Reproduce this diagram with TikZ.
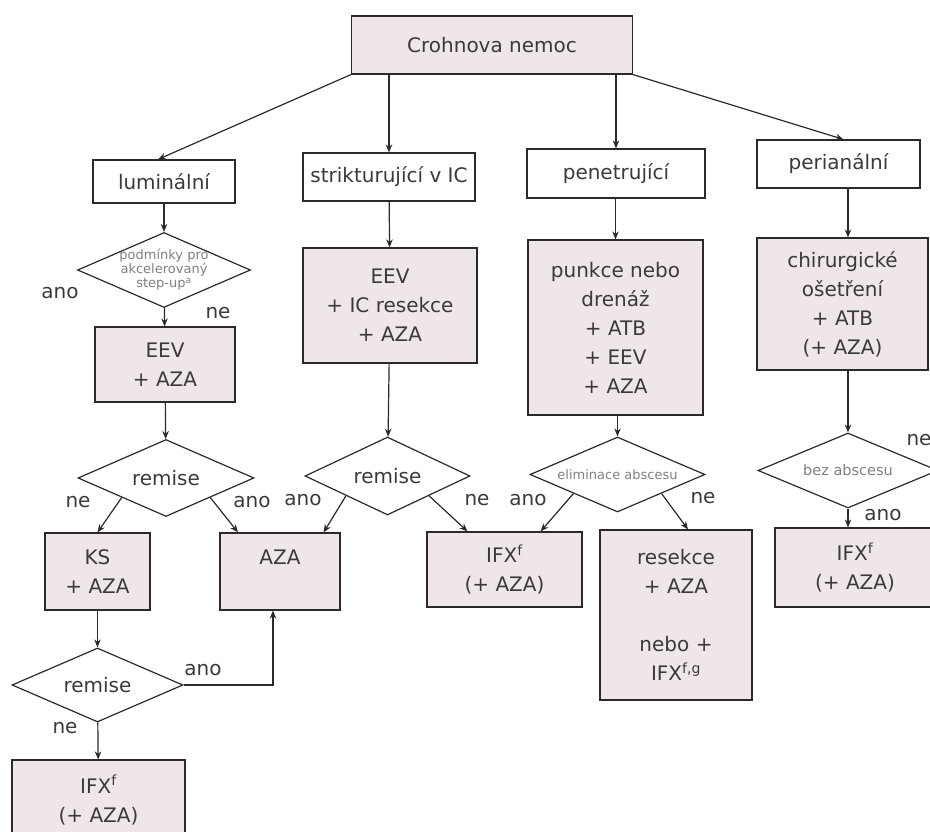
\documentclass[tikz,border=0pt]{standalone}
\usepackage{fontspec}
\setmainfont{DejaVu Sans}
\usepackage{tikz}
\usetikzlibrary{arrows.meta,shapes.geometric}

\definecolor{boxfill}{HTML}{EEE6E8}
\definecolor{inkline}{HTML}{2A2A2A}
\definecolor{inktext}{HTML}{3A3A3A}

\begin{document}
\begin{tikzpicture}[x=1pt, y=-1pt, >={Stealth[length=8pt,width=6.5pt]},
    every node/.style={text=inktext, font=\fontsize{20}{29}\selectfont},
    plain/.style={draw=inkline, line width=1.2pt, inner sep=0pt, align=center},
    cure/.style={plain, fill=boxfill},
    ask/.style={diamond, aspect=2.3, draw=inkline, line width=1.2pt, inner sep=0pt, align=center},
    tiny/.style={font=\fontsize{13}{14}\selectfont, text=gray},
    link/.style={->, draw=inkline, line width=1.2pt}]

    \path[use as bounding box, clip] (0,0) rectangle (930,832);

    % --- top ---
    \node[cure, minimum width=281pt, minimum height=58pt] (crohn) at (492,45) {Crohnova nemoc};

    % --- luminalni ---
    \node[plain, minimum width=142pt, minimum height=43pt] (lum) at (164,181.5) {luminální};
    \node[ask, minimum width=173pt, minimum height=75pt, inner sep=-5pt, tiny] (step) at (164,270)
        {podmínky pro\\akcelerovaný\\step-up\textsuperscript{a}};
    \node[cure, minimum width=140pt, minimum height=75pt] (eev1) at (165,364.5) {EEV\\+ AZA};
    \node[ask, minimum width=176pt, minimum height=77pt] (rem1) at (166,478) {remise};
    \node[cure, minimum width=105pt, minimum height=77pt] (ks) at (97.5,571.5) {KS\\+ AZA};
    \node[cure, minimum width=120pt, minimum height=77pt] (aza) at (280,571.5) {AZA\\\mbox{}};
    \node[ask, minimum width=171pt, minimum height=74pt] (rem2) at (97.5,685) {remise};
    \node[cure, minimum width=173pt, minimum height=80pt] (ifx1) at (98.5,800)
        {IFX\textsuperscript{f}\\(+ AZA)};

    % --- strikturujici ---
    \node[plain, minimum width=172pt, minimum height=48pt] (strik) at (389,177) {strikturující v IC};
    \node[cure, minimum width=174pt, minimum height=115pt] (eev2) at (390,305.5)
        {EEV\\+ IC resekce\\+ AZA};
    \node[ask, minimum width=165pt, minimum height=78pt] (rem3) at (387.5,476) {remise};
    \node[cure, minimum width=155pt, minimum height=75pt] (ifx2) at (504.5,569.5)
        {IFX\textsuperscript{f}\\(+ AZA)};

    % --- penetrujici ---
    \node[plain, minimum width=178pt, minimum height=49pt] (pen) at (616,173.5) {penetrující};
    \node[cure, minimum width=175pt, minimum height=175pt] (punk) at (615.5,327.5)
        {punkce nebo\\drenáž\\+ ATB\\+ EEV\\+ AZA};
    \node[ask, minimum width=175pt, minimum height=75pt, tiny] (elim) at (617.5,474.5)
        {eliminace abscesu};
    \node[cure, minimum width=152pt, minimum height=170pt] (res) at (676,615)
        {resekce\\+ AZA\\[29pt]nebo +\\IFX\textsuperscript{f,g}};

    % --- perianalni ---
    \node[plain, minimum width=163pt, minimum height=48pt] (peri) at (838.5,164) {perianální};
    \node[cure, minimum width=171pt, minimum height=132pt] (chir) at (842.5,304)
        {chirurgické\\ošetření\\+ ATB\\(+ AZA)};
    \node[ask, minimum width=180pt, minimum height=75pt, tiny, font=\fontsize{14.5}{16}\selectfont] (bez) at (848,470.5)
        {bez abscesu};
    \node[cure, minimum width=160pt, minimum height=79pt] (ifx3) at (855,567.5)
        {IFX\textsuperscript{f}\\(+ AZA)};

    % --- answers ---
    \node (ano0) at (60,293) {ano};
    \node (ne0) at (218,313) {ne};
    \node (ne1) at (78,502) {ne};
    \node (ano1) at (252,502) {ano};
    \node (ano2) at (303,500) {ano};
    \node (ne2) at (477,500) {ne};
    \node (ano3) at (528,500) {ano};
    \node (ne3) at (703,498) {ne};
    \node (ano4) at (203,670) {ano};
    \node (ne4) at (65,728) {ne};
    \node (ne5) at (919,440) {ne};
    \node (ano5) at (883,515) {ano};

    % --- arrows ---
    \draw[link] (crohn.south west) -- ([xshift=-6pt]lum.north);
    \draw[link] (crohn.south -| strik) -- (strik.north);
    \draw[link] (crohn.south -| pen) -- (pen.north);
    \draw[link] (crohn.south east) -- ([xshift=5pt]peri.north);

    \draw[link] (lum) -- (step);
    \draw[link] (step) -- (eev1);
    \draw[link] (eev1) -- (rem1);
    \draw[link] (rem1.south west) -- (ks.north);
    \draw[link] (rem1.south east) -- ([xshift=-42pt]aza.north);
    \draw[link] (ks) -- (rem2);
    \draw[link] (rem2.east) -| ([xshift=-7pt]aza.south);
    \draw[link] (rem2) -- (ifx1);

    \draw[link] (strik) -- (eev2);
    \draw[link] (eev2) -- (rem3);
    \draw[link] (rem3.south west) -- ([xshift=-17pt]aza.north east);
    \draw[link] (rem3.south east) -- ([xshift=-37pt]ifx2.north);

    \draw[link] (pen.south -| punk) -- (punk.north);
    \draw[link] (punk.south -| elim) -- (elim.north);
    \draw[link] (elim.south west) -- ([xshift=-42pt]ifx2.north east);
    \draw[link] (elim.south east) -- ([xshift=12pt]res.north);

    \draw[link] (peri.south -| bez) -- (chir.north -| bez);
    \draw[link] (chir.south -| bez) -- (bez.north);
    \draw[link] (bez.south) -- (bez.south |- ifx3.north);

\end{tikzpicture}
\end{document}
